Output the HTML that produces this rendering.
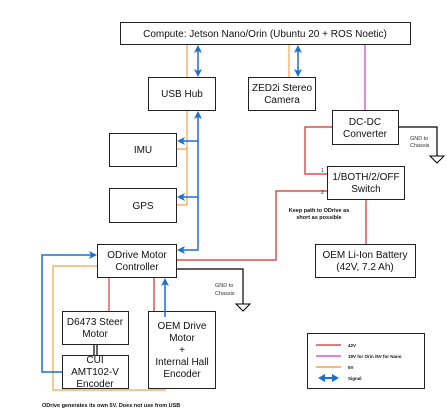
<!DOCTYPE html>
<html><head><style>body{margin:0;background:#fff}svg{display:block}text{font-family:"Liberation Sans",sans-serif}</style></head><body>
<svg width="447" height="409" viewBox="0 0 447 409" xmlns="http://www.w3.org/2000/svg">
<g fill="#fff" stroke="#222" stroke-width="1">
<rect x="120.5" y="22.5" width="290" height="22"/>
<rect x="148.5" y="77.5" width="67" height="33"/>
<rect x="248.5" y="77.5" width="67" height="33"/>
<rect x="332.5" y="110.5" width="66" height="34"/>
<rect x="109.5" y="133.5" width="67" height="33"/>
<rect x="109.5" y="188.5" width="67" height="34"/>
<rect x="327.5" y="166.5" width="77" height="33"/>
<rect x="97.5" y="244.5" width="79" height="33"/>
<rect x="315.5" y="244.5" width="100" height="33"/>
<rect x="62.5" y="311.5" width="66" height="33"/>
<rect x="62.5" y="355.5" width="66" height="33"/>
<rect x="148.5" y="311.5" width="67" height="77"/>
<rect x="307.5" y="333.5" width="117" height="55"/>
</g>
<g fill="none" stroke-width="1.2">
<path d="M187,45V77M187,111V205H177M187,149H177M289,45V77" stroke="#f7a04a"/>
<path d="M97,266H53V390H165V389M95,389V390" stroke="#f7a04a"/>
<path d="M365,45V110" stroke="#c83fd0"/>
<path d="M198,50V71M298,50V71M198,116V250H182M198,141H182M198,197H182M62,372H42V255H91M165,317V283" stroke="#1a6fd6" stroke-width="1.5"/>
<path d="M332,127H305V174H327M327,191H276V260H177M366,200V244M154,278V311" stroke="#d42a2a"/>
<path d="M109,278V311" stroke="#e06060" stroke-width="1.5"/>
<path d="M399,127H437V156M177,269H243V304M94,345V355M97,345V355" stroke="#000"/>
<path d="M430,156H444L437,163Z M236,304H250L243,311Z" stroke="#000" stroke-width="1"/>
<path d="M316,345H341" stroke="#d42a2a"/>
<path d="M316,356H341" stroke="#c83fd0"/>
<path d="M316,367H341" stroke="#f7a04a" stroke-width="1.5"/>
<path d="M322,378H335" stroke="#1a6fd6" stroke-width="2"/>
</g>
<g fill="#1a6fd6">
<!-- up arrows -->
<path d="M198,45l-4,8l4,-2l4,2z M298,45l-4,8l4,-2l4,2z M198,111l-4,8l4,-2l4,2z M165,278l-4,8l4,-2l4,2z"/>
<!-- down arrows -->
<path d="M198,77l-4,-8l4,2l4,-2z M298,77l-4,-8l4,2l4,-2z"/>
<!-- left arrows -->
<path d="M177,250l8,-4l-2,4l2,4z M177,141l8,-4l-2,4l2,4z M177,197l8,-4l-2,4l2,4z"/>
<!-- right arrow -->
<path d="M97,255l-8,-4l2,4l-2,4z"/>
<!-- legend -->
<path d="M318,378l7,-4v8z M339,378l-7,-4v8z"/>
</g>
<g font-size="10" text-anchor="middle" fill="#111">
<text x="265" y="37">Compute: Jetson Nano/Orin (Ubuntu 20 + ROS Noetic)</text>
<text x="182" y="97">USB Hub</text>
<text x="282" y="91">ZED2i Stereo</text><text x="282" y="103">Camera</text>
<text x="365" y="125">DC-DC</text><text x="365" y="137">Converter</text>
<text x="143" y="153">IMU</text>
<text x="143" y="209">GPS</text>
<text x="366" y="180">1/BOTH/2/OFF</text><text x="366" y="192">Switch</text>
<text x="137" y="258">ODrive Motor</text><text x="137" y="270">Controller</text>
<text x="365" y="258">OEM Li-Ion Battery</text><text x="365" y="270">(42V, 7.2 Ah)</text>
<text x="95" y="325">D6473 Steer</text><text x="95" y="337">Motor</text>
<text x="95" y="363">CUI</text><text x="95" y="375">AMT102-V</text><text x="95" y="387">Encoder</text>
<text x="182" y="329">OEM Drive</text><text x="182" y="341">Motor</text><text x="182" y="353">+</text><text x="182" y="365">Internal Hall</text><text x="182" y="377">Encoder</text>
</g>
<g font-size="5.5" fill="#333">
<text x="410" y="140">GND to</text><text x="410" y="147">Chassis</text>
<text x="215" y="287">GND to</text><text x="215" y="295">Chassis</text>
<text x="321" y="172">1</text><text x="321" y="194">2</text>
</g>
<g font-size="5.5" font-weight="bold" fill="#111">
<text x="319" y="212" text-anchor="middle">Keep path to ODrive as</text>
<text x="319" y="219" text-anchor="middle">short as possible</text>
<text x="42" y="407">ODrive generates its own 5V.  Does not use from USB</text>
<text x="348" y="347" font-size="4.5">42V</text>
<text x="348" y="358" font-size="4.5">19V for Orin /5V for Nano</text>
<text x="348" y="369" font-size="4.5">5V</text>
<text x="348" y="380" font-size="4.5">Signal</text>
</g>
</svg>
</body></html>
